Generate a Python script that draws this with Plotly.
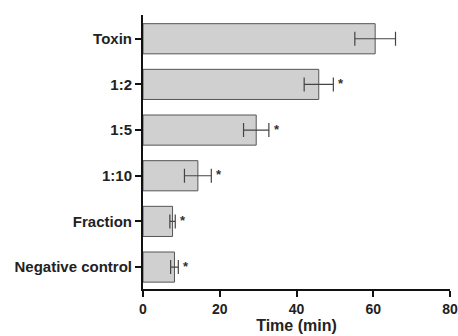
import plotly.graph_objects as go

categories = ["Toxin", "1:2", "1:5", "1:10", "Fraction", "Negative control"]
means = [60.5, 45.8, 29.5, 14.3, 7.7, 8.2]
errors = [5.3, 3.8, 3.3, 3.5, 0.7, 1.0]
significant = [False, True, True, True, True, True]
x_ticks = [0, 20, 40, 60, 80]

font_family = "Liberation Sans, Arial, sans-serif"

fig = go.Figure()
fig.add_trace(go.Bar(
    y=categories, x=means, orientation="h",
    width=0.66,
    marker=dict(color="#d0d0d0", line=dict(color="#555555", width=1)),
    error_x=dict(type="data", array=errors, visible=True,
                 color="#444444", thickness=1.2, width=7),
    showlegend=False,
))

for cat, m, e, s in zip(categories, means, errors, significant):
    if s:
        fig.add_annotation(x=m + e, y=cat, text="<b>*</b>", showarrow=False,
                           xanchor="left", yanchor="middle", xshift=3, yshift=1,
                           font=dict(family=font_family, size=13, color="#333333"))

fig.update_layout(
    width=458, height=336,
    margin=dict(l=143, r=8, t=15, b=47),
    plot_bgcolor="white", paper_bgcolor="white",
    font=dict(family=font_family, color="#222222"),
    bargap=0.34,
)
fig.update_xaxes(
    range=[0, 80], tickvals=x_ticks, ticktext=[f"<b>{v}</b>" for v in x_ticks],
    showline=True, linecolor="#111111", linewidth=2,
    ticks="outside", ticklen=6, tickwidth=2, tickcolor="#111111",
    showgrid=False, zeroline=False, automargin=False,
    tickfont=dict(size=14, family=font_family, color="#222222"),
    title=dict(text="<b>Time (min)</b>", standoff=3,
               font=dict(size=16, family=font_family, color="#222222")),
)
fig.update_yaxes(
    type="category", categoryorder="array", categoryarray=categories[::-1],
    range=[-0.48, 5.52], automargin=False,
    tickvals=categories, ticktext=[f"<b>{c}</b>" for c in categories],
    showline=True, linecolor="#111111", linewidth=2,
    ticks="outside", ticklen=6, tickwidth=2, tickcolor="#111111",
    showgrid=False, zeroline=False,
    tickfont=dict(size=15, family=font_family, color="#222222"),
)

fig.write_html("out.html", config={"displayModeBar": False},
               post_script="document.body.style.margin='0';document.body.style.overflow='hidden';")
